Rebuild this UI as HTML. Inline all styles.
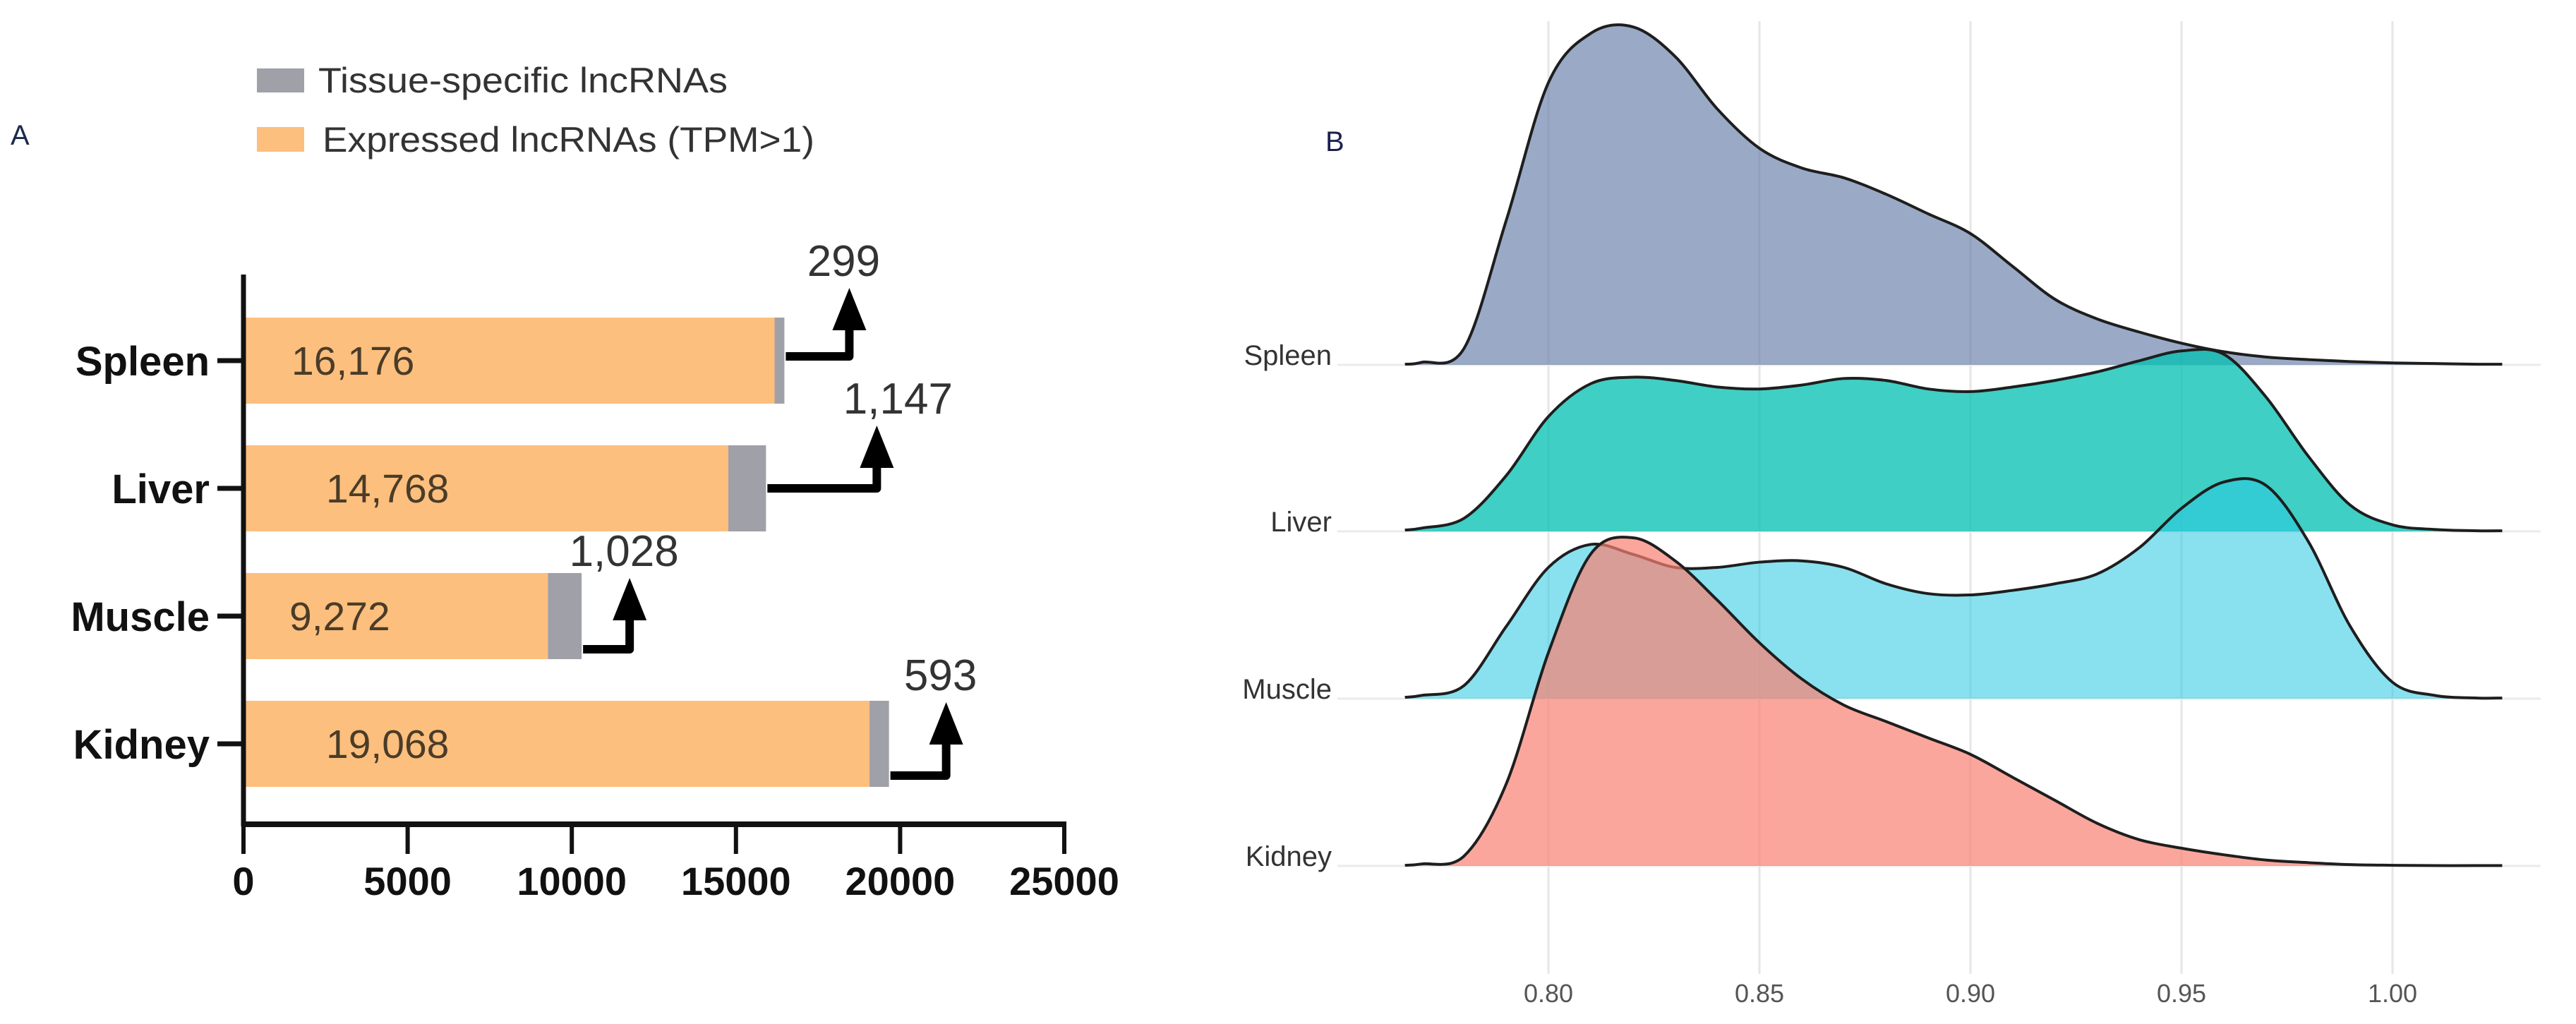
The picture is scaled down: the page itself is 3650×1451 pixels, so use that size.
<!DOCTYPE html>
<html><head><meta charset="utf-8"><style>
html,body{margin:0;padding:0;background:#fff;}
svg{display:block;}
</style></head><body>
<svg id="fig" width="3650" height="1451" viewBox="0 0 3650 1451" xmlns="http://www.w3.org/2000/svg">
<g id="panelA"></g>
<g id="panelB"></g>
</svg>
<script>
// ---------- Panel A data ----------
const tissues = ["Spleen", "Liver", "Muscle", "Kidney"];
const expressed = [16176, 14768, 9272, 19068];
const specific = [299, 1147, 1028, 593];
const expressedLabels = ["16,176", "14,768", "9,272", "19,068"];
const specificLabels = ["299", "1,147", "1,028", "593"];
const xTicksA = [0, 5000, 10000, 15000, 20000, 25000];

// ---------- Panel B data ----------
const ridgeNames = ["Spleen", "Liver", "Muscle", "Kidney"];
const gridX = [0.766, 0.77, 0.78, 0.79, 0.80, 0.81, 0.82, 0.83, 0.84, 0.85, 0.86, 0.87, 0.88, 0.89, 0.90, 0.91, 0.92, 0.93, 0.94, 0.95, 0.96, 0.97, 0.98, 0.99, 1.00, 1.01, 1.02, 1.026];
const spleenDens = [0.02, 0.08, 0.5, 4.4, 8.6, 10.1, 10.3, 9.4, 7.8, 6.6, 6.0, 5.7, 5.2, 4.6, 4.0, 3.0, 2.0, 1.4, 1.0, 0.66, 0.4, 0.24, 0.16, 0.1, 0.06, 0.04, 0.02, 0.02];
const liverDens = [0.04, 0.1, 0.4, 1.7, 3.5, 4.5, 4.7, 4.6, 4.4, 4.34, 4.46, 4.66, 4.6, 4.34, 4.26, 4.4, 4.6, 4.86, 5.2, 5.5, 5.4, 4.1, 2.3, 0.8, 0.2, 0.06, 0.02, 0.02];
const muscleDens = [0.04, 0.1, 0.4, 2.2, 4.0, 4.7, 4.4, 4.0, 4.0, 4.16, 4.2, 4.0, 3.5, 3.2, 3.16, 3.3, 3.5, 3.8, 4.6, 5.8, 6.6, 6.5, 4.8, 2.2, 0.5, 0.1, 0.02, 0.02];
const kidneyDens = [0.02, 0.06, 0.3, 2.5, 6.5, 9.5, 10.0, 9.3, 8.1, 6.8, 5.7, 4.9, 4.4, 3.9, 3.4, 2.7, 2.0, 1.3, 0.8, 0.54, 0.34, 0.18, 0.1, 0.04, 0.02, 0.01, 0.01, 0.01];
const xTicksB = [0.80, 0.85, 0.90, 0.95, 1.00];
const xTickLabelsB = ["0.80", "0.85", "0.90", "0.95", "1.00"];

const NS = "http://www.w3.org/2000/svg";
function mk(parent, tag, attrs, text) {
  const e = document.createElementNS(NS, tag);
  for (const k in attrs) e.setAttribute(k, attrs[k]);
  if (text !== undefined) e.textContent = text;
  parent.appendChild(e);
  return e;
}

// ================= PANEL A =================
const A = document.getElementById("panelA");
const ax0 = 345, ax1 = 1508, axMax = 25000;
const xA = v => ax0 + (v / axMax) * (ax1 - ax0);
const rowTop = 450, rowStep = 181, barH = 122;
const yA = i => rowTop + i * rowStep + barH / 2;
const axisY = 1168, axisTop = 389;
const arrowDx = [90, 155, 66, 79];      // styling: horizontal run of arrow
const arrowDy = [-6, 0, 47, 45];        // styling: arrow start offset from bar centre
const arrowRise = [97, 89, 101, 104];   // styling: arrow vertical length

let t = mk(A, "text", {x: 15, y: 205, "font-family": "Liberation Sans, sans-serif", "font-size": 40, fill: "#1a2a4a"}, "A");



// legend
const lg = mk(A, "g", {});


let r = mk(lg, "rect", {x: 364, y: 97, width: 67, height: 34, fill: "#a0a0a8"});


t = mk(lg, "text", {x: 451, y: 131, "font-family": "Liberation Sans, sans-serif", "font-size": 50, fill: "#333", textLength: 580, lengthAdjust: "spacingAndGlyphs"}, "Tissue-specific lncRNAs");


r = mk(lg, "rect", {x: 364, y: 180, width: 67, height: 35, fill: "#fdbf7e"});


t = mk(lg, "text", {x: 457, y: 215, "font-family": "Liberation Sans, sans-serif", "font-size": 50, fill: "#333", textLength: 697, lengthAdjust: "spacingAndGlyphs"}, "Expressed lncRNAs (TPM>1)");



// bars
tissues.forEach((name, i) => {
  const cy = yA(i);
  const g = mk(A, "g", {});
  
  
  const b1 = mk(g, "rect", {x: xA(0), y: cy - barH / 2, width: xA(expressed[i]) - xA(0), height: barH, fill: "#fdbf7e"});
  
  
  const b2 = mk(g, "rect", {x: xA(expressed[i]), y: cy - barH / 2, width: xA(expressed[i] + specific[i]) - xA(expressed[i]), height: barH, fill: "#a0a0a8"});
  
  
  const lab = mk(g, "text", {x: xA(0) + (i === 2 ? 65 : (i === 0 ? 68 : 117)), y: cy + 20, "font-family": "Liberation Sans, sans-serif", "font-size": 57, fill: "#4a3c28"}, expressedLabels[i]);
  
  
  // category
  const cl = mk(A, "text", {x: 297, y: cy + 21, "text-anchor": "end", "font-family": "Liberation Sans, sans-serif", "font-weight": "bold", "font-size": 58, fill: "#111"}, name);
  
  
  const tk = mk(A, "line", {x1: 308, x2: ax0, y1: cy, y2: cy, stroke: "#111", "stroke-width": 7});
  
  
  // arrow
  const sx = xA(expressed[i] + specific[i]) + 2, sy = cy + arrowDy[i];
  const vx = sx + arrowDx[i], tipY = sy - arrowRise[i];
  const ar = mk(A, "g", {});
  
  
  mk(ar, "path", {d: `M${sx},${sy} H${vx} V${tipY + 50}`, fill: "none", stroke: "#000", "stroke-width": 12, "stroke-linejoin": "round"});
  mk(ar, "polygon", {points: `${vx},${tipY} ${vx - 24},${tipY + 60} ${vx + 24},${tipY + 60}`, fill: "#000"});
  const al = mk(A, "text", {x: vx - 8 + (i === 1 ? 38 : 0), y: tipY - 17, "text-anchor": "middle", "font-family": "Liberation Sans, sans-serif", "font-size": 62, fill: "#333"}, specificLabels[i]);
  
  
});

// axes
let ln = mk(A, "line", {x1: ax0, x2: ax0, y1: axisTop, y2: axisY + 3, stroke: "#111", "stroke-width": 7});


ln = mk(A, "line", {x1: ax0 - 3, x2: ax1 + 3, y1: axisY, y2: axisY, stroke: "#111", "stroke-width": 8});


xTicksA.forEach(v => {
  const tk = mk(A, "line", {x1: xA(v), x2: xA(v), y1: axisY, y2: 1210, stroke: "#111", "stroke-width": 6});
  
  
  const tl = mk(A, "text", {x: xA(v), y: 1268, "text-anchor": "middle", "font-family": "Liberation Sans, sans-serif", "font-weight": "bold", "font-size": 56, fill: "#111"}, String(v));
  
  
});

// ================= PANEL B =================
const B = document.getElementById("panelB");
const bx0 = 2194, bPer = 5980;
const xB = v => bx0 + (v - 0.80) * bPer;
const baselines = [517, 753, 990, 1227];   // ridge row positions (layout)
const dScale = 46.5;
const fills = ["rgba(100,124,168,0.65)", "rgba(0,191,176,0.75)", "rgba(40,200,225,0.55)", "rgba(250,128,114,0.7)"];
const series = [spleenDens, liverDens, muscleDens, kidneyDens];

t = mk(B, "text", {x: 1878, y: 214, "font-family": "Liberation Sans, sans-serif", "font-size": 40, fill: "#1a2050"}, "B");



xTicksB.forEach((v, i) => {
  const gl = mk(B, "line", {x1: xB(v), x2: xB(v), y1: 30, y2: 1380, stroke: "#e6e6e6", "stroke-width": 3});
  
  
  const tl = mk(B, "text", {x: xB(v), y: 1420, "text-anchor": "middle", "font-family": "Liberation Sans, sans-serif", "font-size": 36, fill: "#555"}, xTickLabelsB[i]);
  
  
});
baselines.forEach((by, i) => {
  const bl = mk(B, "line", {x1: 1895, x2: 3600, y1: by, y2: by, stroke: "#ebebeb", "stroke-width": 3});
  
  
  const lb = mk(B, "text", {x: 1887, y: by - 0, "text-anchor": "end", "font-family": "Liberation Sans, sans-serif", "font-size": 40, fill: "#333"}, ridgeNames[i]);
  
  
});

function smoothPath(pts) {
  let d = `M${pts[0][0]},${pts[0][1]}`;
  for (let i = 0; i < pts.length - 1; i++) {
    const p0 = pts[Math.max(0, i - 1)], p1 = pts[i], p2 = pts[i + 1], p3 = pts[Math.min(pts.length - 1, i + 2)];
    const c1x = p1[0] + (p2[0] - p0[0]) / 6, c1y = p1[1] + (p2[1] - p0[1]) / 6;
    const c2x = p2[0] - (p3[0] - p1[0]) / 6, c2y = p2[1] - (p3[1] - p1[1]) / 6;
    d += ` C${c1x},${c1y} ${c2x},${c2y} ${p2[0]},${p2[1]}`;
  }
  return d;
}
series.forEach((dens, i) => {
  const by = baselines[i];
  const pts = gridX.map((v, k) => [xB(v), by - dens[k] * dScale]);
  const line = smoothPath(pts);
  const g = mk(B, "g", {});
  
  
  mk(g, "path", {d: line + ` L${pts[pts.length - 1][0]},${by} L${pts[0][0]},${by} Z`, fill: fills[i], stroke: "none"});
  mk(g, "path", {d: line, fill: "none", stroke: "#1e1e1e", "stroke-width": 4});
});
</script>
</body></html>
